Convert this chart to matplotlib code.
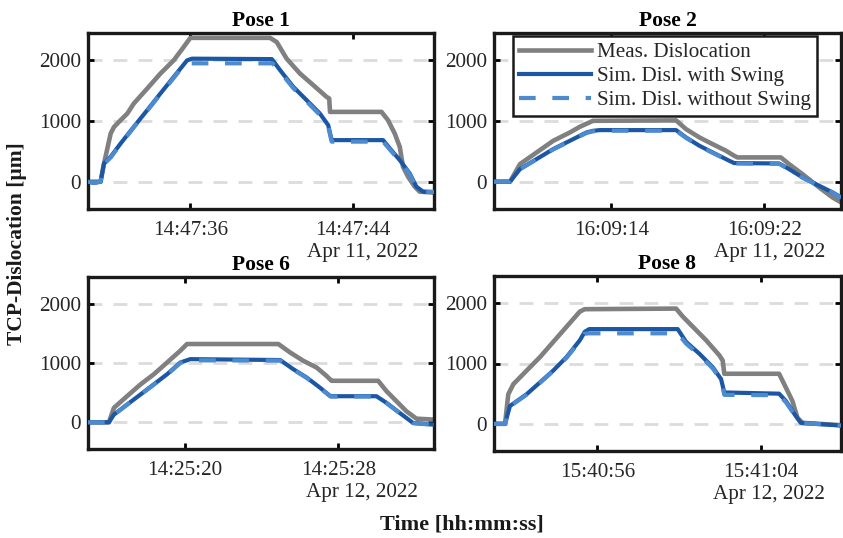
import matplotlib
matplotlib.use("Agg")
import matplotlib.pyplot as plt
import matplotlib.dates as mdates
import pandas as pd

plt.rcParams['font.family'] = ['Liberation Serif', 'DejaVu Serif']

# ---------------- data ----------------
titles = ["Pose 1", "Pose 2", "Pose 6", "Pose 8"]
base_minutes = ["2022-04-11 14:47:00", "2022-04-11 16:09:00",
                "2022-04-12 14:25:00", "2022-04-12 15:40:00"]
date_labels = ["Apr 11, 2022", "Apr 11, 2022", "Apr 12, 2022", "Apr 12, 2022"]
xlims_s = [(30.95, 48.02), (7.86, 26.02), (14.96, 32.99), (50.94, 67.92)]
xticks_s = [(36, 44), (14, 22), (20, 28), (56, 64)]
yticks = [0, 1000, 2000]
ylim = (-450, 2450)
legend_labels = ["Meas. Dislocation", "Sim. Disl. with Swing", "Sim. Disl. without Swing"]

# Pose 1 (seconds after 14:47:00)
p1_meas_t = [30.95, 31.57, 31.74, 32.07, 32.23, 32.56, 32.89, 33.21, 33.87, 34.52, 35.18, 35.67, 36.0,
             39.93, 40.26, 40.75, 41.41, 42.07, 42.72, 42.85, 42.89, 45.43, 45.75, 46.08, 46.33, 46.49,
             46.74, 47.07, 47.31, 48.02]
p1_meas_v = [0, 0, 300, 795, 900, 1014, 1123, 1288, 1534, 1781, 2000, 2219, 2370,
             2370, 2301, 2027, 1781, 1589, 1397, 1370, 1150, 1150, 1014, 795, 575, 247,
             82, -82, -164, -180]
p1_sim_t = [30.95, 31.25, 31.57, 31.74, 32.07, 32.56, 33.21, 33.87, 34.52, 35.18, 35.84, 36.08,
            40.02, 40.43, 41.08, 41.74, 42.39, 42.80, 42.97, 45.51, 45.84, 46.33, 46.82, 47.15,
            47.48, 48.02]
p1_sim_v = [0, -20, 0, 300, 411, 630, 904, 1178, 1452, 1726, 2000, 2027,
            2020, 1836, 1562, 1342, 1123, 932, 685, 685, 548, 356, 137, -82,
            -164, -170]
p1_nos_t = [30.95, 31.25, 31.57, 31.74, 32.07, 32.56, 33.21, 33.87, 34.52, 35.18, 35.75, 36.0,
            40.05, 40.43, 41.08, 41.74, 42.39, 42.80, 42.97, 45.51, 45.84, 46.33, 46.82, 47.15,
            47.48, 48.02]
p1_nos_v = [0, -20, 0, 290, 400, 620, 895, 1170, 1440, 1710, 1950, 1950,
            1950, 1810, 1540, 1320, 1100, 910, 660, 660, 530, 340, 125, -90,
            -165, -170]

# Pose 2 (seconds after 16:09:00)
p2_meas_t = [7.86, 8.70, 9.22, 10.09, 10.96, 11.83, 12.35, 13.04, 17.39, 17.91, 18.61, 19.30, 20.0,
             20.43, 20.6, 22.87, 23.30, 24.0, 24.87, 25.57, 26.02]
p2_meas_v = [0, 0, 290, 482, 674, 811, 904, 1003, 1010, 866, 729, 619, 510,
             427, 400, 400, 290, 126, -93, -258, -340]
p2_sim_t = [7.86, 8.70, 9.22, 10.09, 10.96, 11.83, 12.70, 13.04, 13.39, 17.39, 17.91, 18.61, 19.30,
            20.17, 20.43, 22.78, 23.30, 24.0, 24.87, 25.57, 26.02]
p2_sim_v = [0, 0, 208, 373, 537, 674, 811, 838, 850, 850, 729, 592, 482,
            345, 307, 300, 208, 71, -66, -175, -258]
p2_nos_t = [7.86, 8.70, 9.22, 10.09, 10.96, 11.83, 12.70, 13.04, 13.39, 17.39, 17.91, 18.61, 19.30,
            20.17, 20.43, 22.78, 23.30, 24.0, 24.87, 25.57, 26.02]
p2_nos_v = [0, 0, 205, 370, 532, 668, 803, 830, 840, 840, 722, 585, 476,
            340, 300, 295, 205, 68, -68, -178, -262]

# Pose 6 (seconds after 14:25:00)
p6_meas_t = [14.96, 16.05, 16.31, 17.0, 17.70, 18.39, 19.08, 19.77, 20.12, 24.88, 25.49, 26.18, 26.87,
             27.39, 27.57, 27.65, 30.08, 30.51, 31.03, 31.55, 32.07, 32.99]
p6_meas_v = [0, 0, 244, 442, 640, 810, 1008, 1207, 1320, 1320, 1178, 1037, 924,
             782, 725, 700, 700, 527, 357, 187, 62, 45]
p6_sim_t = [14.96, 16.05, 16.31, 17.0, 17.70, 18.39, 19.08, 19.77, 20.29, 24.97, 25.66, 26.36, 27.05,
            27.48, 27.6, 29.99, 30.51, 31.20, 31.90, 32.99]
p6_sim_v = [0, 0, 130, 300, 470, 640, 810, 1008, 1065, 1050, 895, 754, 584,
            470, 440, 440, 329, 159, -11, -40]
p6_nos_t = [14.96, 16.05, 16.31, 17.0, 17.70, 18.39, 19.08, 19.77, 20.29, 24.97, 25.66, 26.36, 27.05,
            27.48, 27.6, 29.99, 30.51, 31.20, 31.90, 32.99]
p6_nos_v = [0, 0, 128, 297, 466, 636, 805, 1000, 1045, 1040, 888, 748, 578,
            465, 435, 435, 325, 155, -14, -42]

# Pose 8 (seconds after 15:40:00)
p8_meas_t = [50.94, 51.48, 51.64, 51.89, 52.54, 53.19, 53.84, 54.49, 55.14, 55.38, 59.85, 60.18, 60.67,
             61.32, 61.97, 62.13, 62.21, 64.89, 65.22, 65.54, 65.79, 66.03, 67.92]
p8_meas_v = [0, 0, 492, 659, 883, 1106, 1358, 1609, 1860, 1900, 1910, 1777, 1609,
             1385, 1134, 1050, 830, 830, 603, 380, 101, 17, -22]
p8_sim_t = [50.94, 51.48, 51.72, 52.54, 53.19, 53.84, 54.49, 55.14, 55.38, 55.6, 59.93, 60.34, 60.99,
            61.64, 62.05, 62.21, 64.89, 65.22, 65.71, 65.95, 67.92]
p8_sim_v = [0, 0, 296, 492, 687, 883, 1106, 1385, 1525, 1570, 1570, 1358, 1162,
            939, 743, 520, 500, 380, 128, 17, -28]
p8_nos_t = [50.94, 51.48, 51.72, 52.54, 53.19, 53.84, 54.49, 55.14, 55.35, 55.55, 59.93, 60.34, 60.99,
            61.64, 62.05, 62.21, 64.89, 65.22, 65.71, 65.95, 67.92]
p8_nos_v = [0, 0, 290, 485, 680, 875, 1095, 1370, 1490, 1500, 1500, 1330, 1140,
            920, 725, 480, 475, 360, 120, 15, -28]

meas_t = [p1_meas_t, p2_meas_t, p6_meas_t, p8_meas_t]
meas_v = [p1_meas_v, p2_meas_v, p6_meas_v, p8_meas_v]
sim_t = [p1_sim_t, p2_sim_t, p6_sim_t, p8_sim_t]
sim_v = [p1_sim_v, p2_sim_v, p6_sim_v, p8_sim_v]
nos_t = [p1_nos_t, p2_nos_t, p6_nos_t, p8_nos_t]
nos_v = [p1_nos_v, p2_nos_v, p6_nos_v, p8_nos_v]

# ---------------- style ----------------
c_meas = "#808080"
c_sim = "#1c57a5"
c_nos = "#4c8bd0"
fs = 15.2

fig = plt.figure(figsize=(8.43, 5.38), dpi=100)
positions = [
    [88/843, 1-209/538, (434-88)/843, (209-33)/538],
    [494/843, 1-209/538, (841-494)/843, (209-33)/538],
    [88/843, 1-449/538, (434-88)/843, (449-277)/538],
    [494/843, 1-451/538, (841-494)/843, (451-276)/538],
]

def to_time(base, secs):
    b = pd.Timestamp(base)
    return [b + pd.Timedelta(seconds=s) for s in secs]

axes = []
for i in range(4):
    ax = fig.add_axes(positions[i])
    axes.append(ax)
    base = base_minutes[i]
    for yv in yticks:
        ax.axhline(yv, color="#dcdcdc", lw=2.0, ls=(0, (5, 4)), zorder=0)
    l1, = ax.plot(to_time(base, meas_t[i]), meas_v[i], color=c_meas, lw=3.3, zorder=2)
    l2, = ax.plot(to_time(base, sim_t[i]), sim_v[i], color=c_sim, lw=3.0, zorder=3)
    l3, = ax.plot(to_time(base, nos_t[i]), nos_v[i], color=c_nos, lw=3.0,
                  ls=(0, (4, 4)), zorder=4)
    xl = to_time(base, xlims_s[i])
    ax.set_xlim(xl[0], xl[1])
    ax.set_xticks(to_time(base, xticks_s[i]))
    ax.xaxis.set_major_formatter(mdates.DateFormatter("%H:%M:%S"))
    ax.set_ylim(*ylim)
    ax.set_yticks(yticks)
    ax.tick_params(direction="in", length=4, width=2.0, top=True, right=True,
                   labelsize=fs, colors="black")
    ax.tick_params(axis="x", pad=8.5)
    ax.tick_params(axis="y", pad=5)
    for lab in ax.get_xticklabels() + ax.get_yticklabels():
        lab.set_color("#262626")
    for sp in ax.spines.values():
        sp.set_linewidth(2.4)
        sp.set_color("#1a1a1a")
    ax.set_title(titles[i], fontsize=15.5, fontweight="bold", pad=5)
    ax.annotate(date_labels[i], xy=(1, 0), xycoords="axes fraction",
                xytext=(-11.5, -31.5), textcoords="offset points",
                ha="right", va="center", fontsize=fs, color="#262626")
    if i == 1:
        handles = [l1, l2, l3]

leg = axes[1].legend(handles, legend_labels, loc="upper left",
                     bbox_to_anchor=(513/843, 1-36/538), bbox_transform=fig.transFigure,
                     fontsize=fs, frameon=True, fancybox=False, framealpha=1,
                     edgecolor="#1a1a1a", borderpad=0.3, labelspacing=0.2,
                     handlelength=3.4, handletextpad=0.28, borderaxespad=0)
leg.get_frame().set_linewidth(1.8)
for t in leg.get_texts():
    t.set_color("#262626")

fig.text(17/843, 1-244/538, "TCP-Dislocation [µm]", rotation=90, ha="center", va="center",
         fontsize=15.5, fontweight="bold", color="#1a1a1a")
fig.text(462/843, 1-524/538, "Time [hh:mm:ss]", ha="center", va="center",
         fontsize=16, fontweight="bold", color="#1a1a1a")

fig.savefig("out.png", dpi=100)
